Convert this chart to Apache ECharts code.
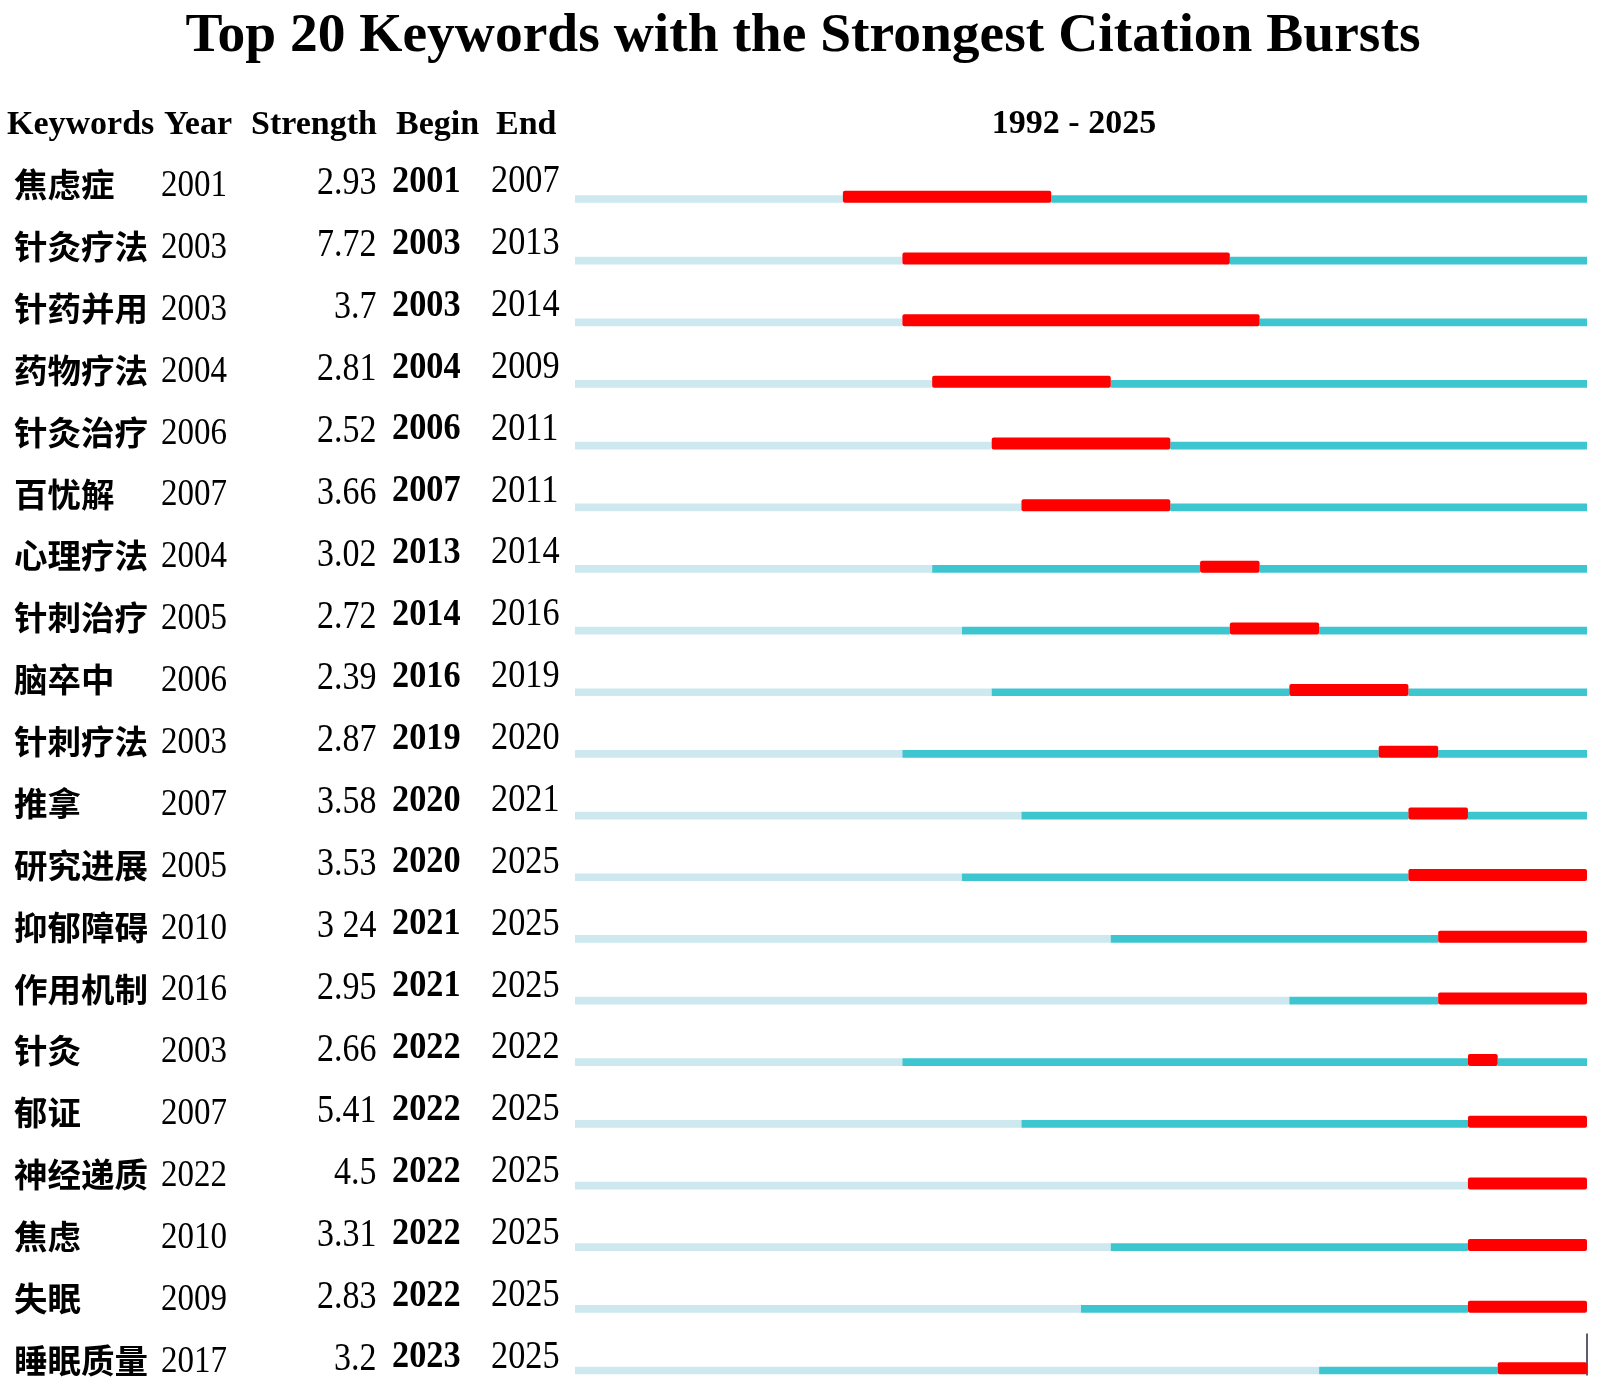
<!DOCTYPE html>
<html>
<head>
<meta charset="utf-8">
<script src="https://cdn.jsdelivr.net/npm/echarts@6.0.0/dist/echarts.min.js"></script>
<style>
  html, body { margin: 0; padding: 0; background: #ffffff; }
  #main { width: 1600px; height: 1398px; }
</style>
</head>
<body>
<div id="main"></div>
<script>
const keywords = ["焦虑症", "针灸疗法", "针药并用", "药物疗法", "针灸治疗", "百忧解", "心理疗法", "针刺治疗", "脑卒中", "针刺疗法",
  "推拿", "研究进展", "抑郁障碍", "作用机制", "针灸", "郁证", "神经递质", "焦虑", "失眠", "睡眠质量"];
const firstYears = [2001, 2003, 2003, 2004, 2006, 2007, 2004, 2005, 2006, 2003,
  2007, 2005, 2010, 2016, 2003, 2007, 2022, 2010, 2009, 2017];
const strengths = ["2.93", "7.72", "3.7", "2.81", "2.52", "3.66", "3.02", "2.72", "2.39", "2.87",
  "3.58", "3.53", "3 24", "2.95", "2.66", "5.41", "4.5", "3.31", "2.83", "3.2"];
const beginYears = [2001, 2003, 2003, 2004, 2006, 2007, 2013, 2014, 2016, 2019,
  2020, 2020, 2021, 2021, 2022, 2022, 2022, 2022, 2022, 2023];
const endYears = [2007, 2013, 2014, 2009, 2011, 2011, 2014, 2016, 2019, 2020,
  2021, 2025, 2025, 2025, 2022, 2025, 2025, 2025, 2025, 2025];
const headers = ["Keywords", "Year", "Strength", "Begin", "End"];
const startYear = 1992;
const lastYear = 2025;

const serif = '"Liberation Serif", "Times New Roman", serif';
const cjk = '"Noto Sans CJK SC", "Noto Sans", sans-serif';
const LIGHT = "#cde9ef";
const CYAN = "#3ec6d0";
const RED = "#ff0000";

const chart = echarts.init(document.getElementById("main"), null, {
  renderer: "canvas",
  width: 1600,
  height: 1398
});

const rows = keywords.map((k, i) => [firstYears[i], beginYears[i], endYears[i], i]);

function renderBurst(params, api) {
  const idx = api.value(3);
  const px = yr => api.coord([yr, idx])[0];
  const y = api.coord([startYear, idx])[1];
  const xs = px(startYear);
  const xe = px(lastYear + 1);
  const xf = px(api.value(0));
  const xb = px(api.value(1));
  const xr = px(api.value(2) + 1);
  const thin = 7.7;
  const thick = 12;
  const top = y - thin / 2;
  const bottom = y + thin / 2;
  const kids = [];
  if (xf > xs) kids.push({ type: "rect", shape: { x: xs, y: top, width: xf - xs, height: thin }, style: { fill: LIGHT } });
  if (xb > xf) kids.push({ type: "rect", shape: { x: xf, y: top, width: xb - xf, height: thin }, style: { fill: CYAN } });
  if (xe > xr) kids.push({ type: "rect", shape: { x: xr, y: top, width: xe - xr, height: thin }, style: { fill: CYAN } });
  kids.push({ type: "rect", shape: { x: xb, y: bottom - thick, width: xr - xb, height: thick, r: 2 }, style: { fill: RED } });
  return { type: "group", children: kids };
}

// the numbers in the source look vertically stretched, hence scaleY
function cell(x, y, text, font, align, sy) {
  return {
    type: "text",
    x: x,
    y: y,
    scaleY: sy || 1,
    style: {
      text: text,
      font: font,
      fill: "#000",
      align: align, textAlign: align,
      verticalAlign: "middle", textVerticalAlign: "middle"
    }
  };
}

function renderRow(params, api) {
  const i = api.value(0);
  const y = api.coord([0, i])[1];
  return {
    type: "group",
    children: [
      cell(14, y, keywords[i], "bold 33.5px " + cjk, "left"),
      cell(161, y + 1.4, String(firstYears[i]), "33px " + serif, "left", 1.18),
      cell(376.5, y - 0.3, strengths[i], "34px " + serif, "right", 1.15),
      cell(392, y - 2.5, String(beginYears[i]), "bold 34.3px " + serif, "left", 1.12),
      cell(491, y - 2.5, String(endYears[i]), "34.3px " + serif, "left", 1.14)
    ]
  };
}

const headX = [7, 164, 251, 396, 496];
const headerGraphics = headers.map((h, i) => ({
  type: "text",
  id: "head" + i,
  x: headX[i],
  y: 125,
  style: {
    text: h,
    font: "bold 34px " + serif,
    fill: "#000",
    align: "left", textAlign: "left",
    verticalAlign: "middle", textVerticalAlign: "middle"
  }
}));
headerGraphics.push({
  type: "text",
  id: "range",
  x: 1074,
  y: 124,
  style: {
    text: startYear + " - " + lastYear,
    font: "bold 34px " + serif,
    fill: "#000",
    align: "center", textAlign: "center",
    verticalAlign: "middle", textVerticalAlign: "middle"
  }
});

chart.setOption({
  animation: false,
  backgroundColor: "#ffffff",
  title: {
    text: "Top 20 Keywords with the Strongest Citation Bursts",
    left: 798,
    textAlign: "center",
    top: 4,
    textStyle: {
      fontFamily: serif,
      fontWeight: "bold",
      fontSize: 55.5,
      color: "#000"
    }
  },
  grid: [
    { left: 575, right: 13, top: 199, bottom: 27.5 },
    { left: 0, right: 0, top: 184.5, bottom: 38 }
  ],
  xAxis: [
    { type: "value", gridIndex: 0, min: startYear, max: lastYear + 1, show: false },
    { type: "value", gridIndex: 1, min: 0, max: 1, show: false }
  ],
  yAxis: [
    { type: "category", gridIndex: 0, data: keywords, inverse: true, boundaryGap: false, show: false },
    { type: "category", gridIndex: 1, data: keywords, inverse: true, boundaryGap: false, show: false }
  ],
  graphic: headerGraphics,
  series: [
    {
      type: "custom",
      name: "bursts",
      xAxisIndex: 0,
      yAxisIndex: 0,
      renderItem: renderBurst,
      encode: { x: [0, 1, 2], y: 3 },
      data: rows,
      silent: true
    },
    {
      type: "custom",
      name: "table",
      xAxisIndex: 1,
      yAxisIndex: 1,
      renderItem: renderRow,
      encode: { y: 0 },
      data: keywords.map((k, i) => [i]),
      silent: true
    }
  ]
});

// small dark tick at the right end of the last row, as in the source figure
const tickPt = chart.convertToPixel({ gridIndex: 0 }, [lastYear + 1, keywords.length - 1]);
chart.setOption({
  graphic: headerGraphics.concat([{
    type: "line",
    id: "endTick",
    shape: { x1: tickPt[0], y1: tickPt[1] - 37, x2: tickPt[0], y2: tickPt[1] + 5 },
    style: { stroke: "#5d5d6e", lineWidth: 2 }
  }])
});
</script>
</body>
</html>
